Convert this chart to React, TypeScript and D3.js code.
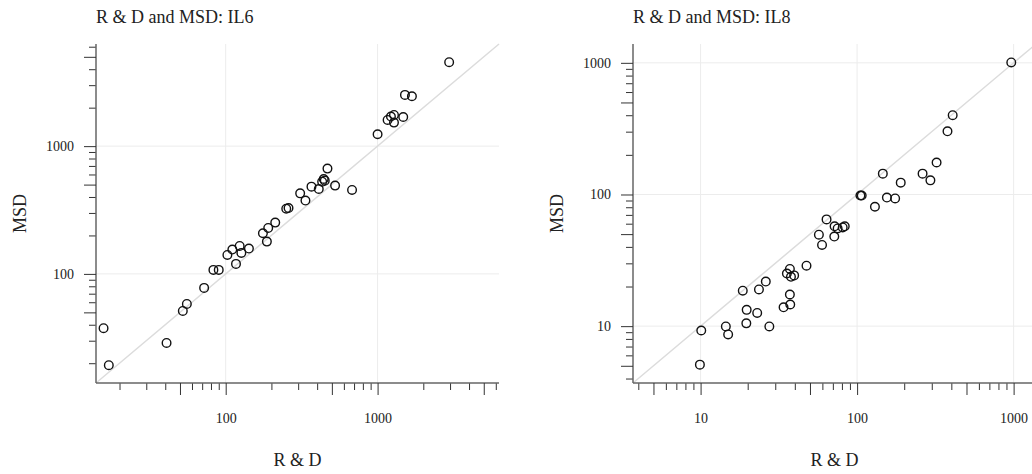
import React, { useEffect, useRef } from "react";
import * as d3 from "d3";

// IL6 panel: R & D (x) vs MSD (y)
const il6RD = [
  15.7, 17.0, 40.8, 52.2, 55.5, 72.1, 83.0, 90.0, 102.6, 110.6, 116.9, 123.6, 126.8,
  142.2, 175.8, 186.7, 190.5, 211.9, 250.4, 259.2, 309.2, 335, 367, 410, 431.5, 442,
  449, 467.7, 525, 679, 1000, 1164, 1224, 1282, 1282, 1475, 1514, 1683, 2959,
];
const il6MSD = [
  37.6, 19.3, 28.8, 51.3, 58.2, 77.7, 107.5, 107.5, 140.8, 155, 119.8, 165.6, 146,
  157.8, 208, 179, 229, 252, 324, 328, 427, 375, 482, 462, 527, 553,
  537, 667, 491, 454, 1239, 1604, 1703, 1754, 1528, 1690, 2518, 2456, 4540,
];

// IL8 panel
const il8RD = [
  966, 408, 378, 322, 262, 294, 190, 146, 155, 175, 105, 107, 130, 63.8, 57.0, 59.7,
  71.8, 75.1, 80.9, 83.4, 71.5, 47.5, 37.2, 35.6, 37.8, 39.6, 37.2, 37.4, 33.9, 26.1,
  23.6, 18.6, 19.7, 23.0, 19.6, 27.5, 14.5, 15.0, 10.1, 9.9,
];
const il8MSD = [
  1007, 400, 302, 175, 144, 128, 123, 144, 94.8, 93.3, 98.2, 98.2, 80.7, 64.7, 49.5, 41.4,
  57.3, 55.2, 56.2, 57.3, 47.9, 28.8, 27.2, 25.1, 23.7, 24.3, 17.4, 14.6, 13.9, 21.8,
  19.0, 18.6, 13.3, 12.6, 10.5, 9.95, 9.95, 8.65, 9.27, 5.1,
];

const panels = [
  { title: "R & D and MSD: IL6", rd: il6RD, msd: il6MSD, domain: [14, 6300], left: 96 },
  { title: "R & D and MSD: IL8", rd: il8RD, msd: il8MSD, domain: [3.7, 1390], left: 633 },
];

const xLabel = "R & D";
const yLabel = "MSD";

const FONT = "'Liberation Serif', 'Times New Roman', serif";

const logTicks = (lo, hi) => {
  const out = [];
  for (let k = Math.floor(Math.log10(lo)); k <= Math.ceil(Math.log10(hi)); k++) {
    for (let m = 1; m < 10; m++) {
      const v = m * Math.pow(10, k);
      if (v >= lo && v <= hi) out.push(v);
    }
  }
  return out;
};
const isPow10 = (v) => Math.abs(Math.log10(v) - Math.round(Math.log10(v))) < 1e-9;
const isMajor = (v) => isPow10(v) || isPow10(v / 5);

export default function App() {
  const svgRef = useRef();

  useEffect(() => {
    const svg = d3.select(svgRef.current);
    svg.selectAll("*").remove();

    const top = 44,
      bottom = 383,
      plotW = 403;

    panels.forEach((p) => {
      const g = svg.append("g");
      const x = d3.scaleLog().domain(p.domain).range([p.left, p.left + plotW]);
      const y = d3.scaleLog().domain(p.domain).range([bottom, top]);
      const ticks = logTicks(p.domain[0], p.domain[1]);
      const decades = ticks.filter(isPow10);

      // grid
      g.selectAll(".gx")
        .data(decades)
        .join("line")
        .attr("x1", (d) => x(d))
        .attr("x2", (d) => x(d))
        .attr("y1", top)
        .attr("y2", bottom)
        .attr("stroke", "#ececec")
        .attr("stroke-width", 1);
      g.selectAll(".gy")
        .data(decades)
        .join("line")
        .attr("x1", p.left)
        .attr("x2", p.left + plotW)
        .attr("y1", (d) => y(d))
        .attr("y2", (d) => y(d))
        .attr("stroke", "#ececec")
        .attr("stroke-width", 1);

      // identity line
      const diag = d3
        .line()
        .x((d) => x(d))
        .y((d) => y(d));
      g.append("path")
        .attr("d", diag(p.domain))
        .attr("fill", "none")
        .attr("stroke", "#dcdcdc")
        .attr("stroke-width", 1.5);

      // minor ticks
      const styleAxis = (sel) => {
        sel.selectAll(".tick line").attr("stroke", "#333").attr("stroke-width", 1);
        sel.selectAll("text")
          .attr("font-family", FONT)
          .attr("font-size", 14)
          .attr("fill", "#222");
      };
      g.append("g")
        .attr("transform", `translate(0,${bottom})`)
        .call(d3.axisBottom(x).tickValues(ticks.filter((v) => !isMajor(v))).tickSize(7).tickFormat(""))
        .call((s) => s.select(".domain").remove())
        .call(styleAxis);
      g.append("g")
        .attr("transform", `translate(${p.left},0)`)
        .call(d3.axisLeft(y).tickValues(ticks.filter((v) => !isMajor(v))).tickSize(7).tickFormat(""))
        .call((s) => s.select(".domain").remove())
        .call(styleAxis);

      // major ticks with labels
      const fmt = (v) => (isPow10(v) ? String(Math.round(v)) : "");
      g.append("g")
        .attr("transform", `translate(0,${bottom})`)
        .call(d3.axisBottom(x).tickValues(ticks.filter(isMajor)).tickSize(12).tickPadding(18).tickFormat(fmt))
        .call((s) => s.select(".domain").attr("stroke", "#666").attr("stroke-width", 1.5).attr("d", `M${p.left},0H${p.left + plotW}`))
        .call(styleAxis);
      g.append("g")
        .attr("transform", `translate(${p.left},0)`)
        .call(d3.axisLeft(y).tickValues(ticks.filter(isMajor)).tickSize(12).tickPadding(10).tickFormat(fmt))
        .call((s) => s.select(".domain").attr("stroke", "#666").attr("stroke-width", 1.5).attr("d", `M0,${top}V${bottom}`))
        .call(styleAxis);

      // points
      g.selectAll("circle")
        .data(p.rd.map((v, i) => [v, p.msd[i]]))
        .join("circle")
        .attr("cx", (d) => x(d[0]))
        .attr("cy", (d) => y(d[1]))
        .attr("r", 4.3)
        .attr("fill", "none")
        .attr("stroke", "#111")
        .attr("stroke-width", 1.4);

      // texts
      g.append("text")
        .attr("x", p.left)
        .attr("y", 23)
        .attr("font-family", FONT)
        .attr("font-size", 18)
        .attr("fill", "#222")
        .text(p.title);
      g.append("text")
        .attr("x", p.left + plotW / 2)
        .attr("y", 466)
        .attr("text-anchor", "middle")
        .attr("font-family", FONT)
        .attr("font-size", 18)
        .attr("fill", "#222")
        .text(xLabel);
      g.append("text")
        .attr("transform", `translate(${p.left - 70},${(top + bottom) / 2}) rotate(-90)`)
        .attr("text-anchor", "middle")
        .attr("font-family", FONT)
        .attr("font-size", 18)
        .attr("fill", "#222")
        .text(yLabel);
    });
  }, []);

  return (
    <svg
      ref={svgRef}
      width={1032}
      height={474}
      style={{ position: "absolute", left: 0, top: 0, background: "#fff" }}
    ></svg>
  );
}
